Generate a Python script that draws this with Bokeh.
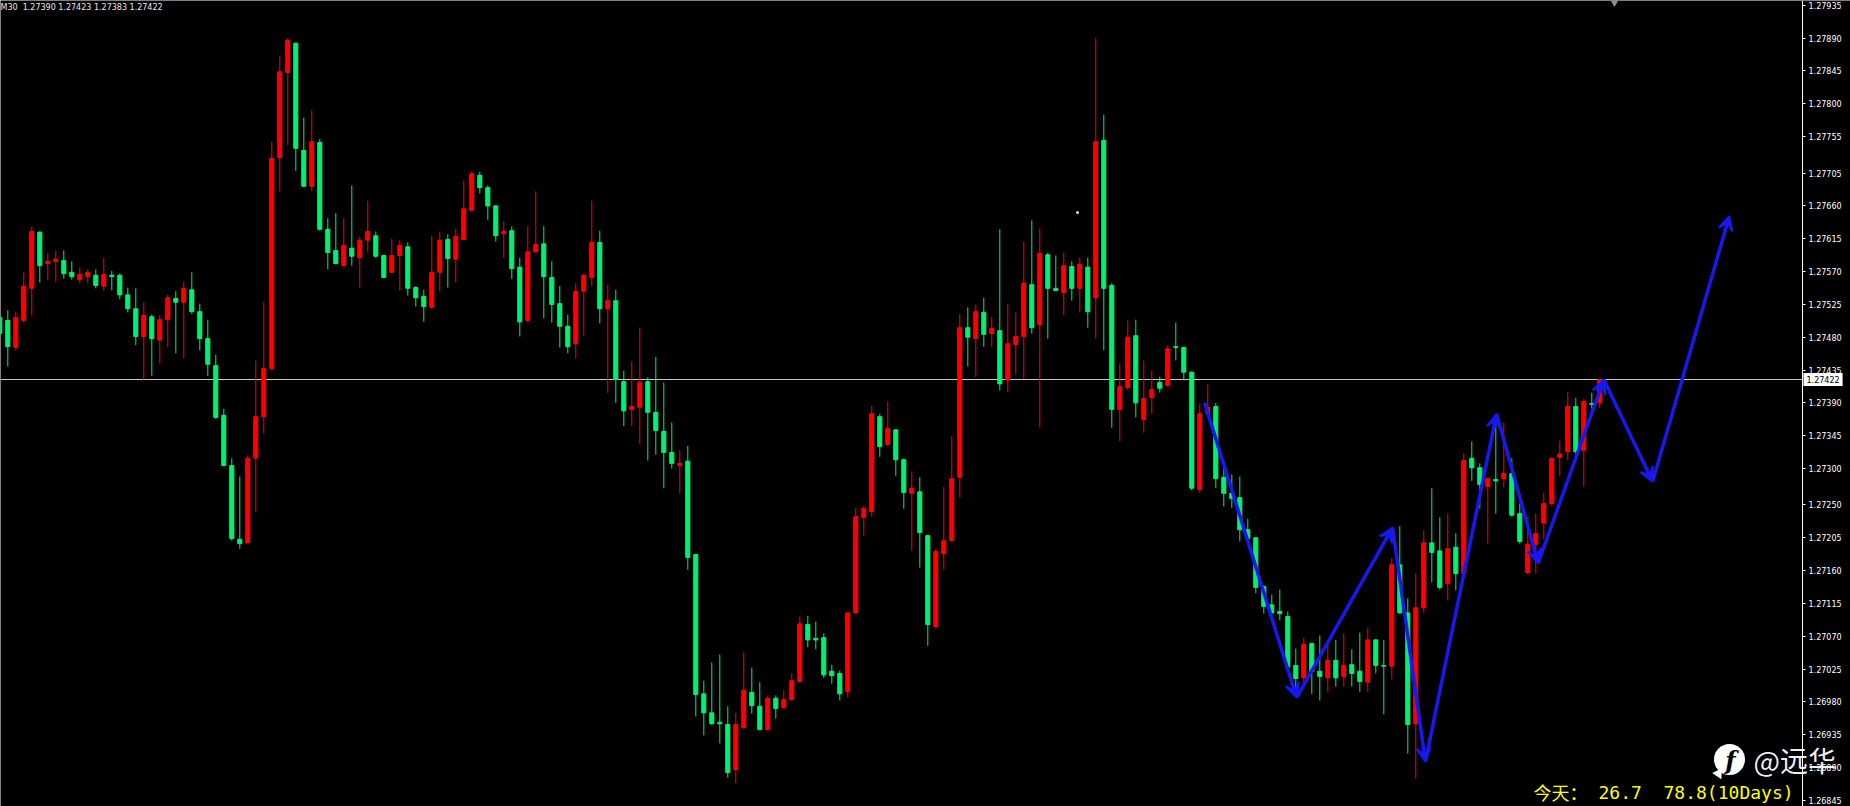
from bokeh.plotting import figure
from bokeh.models import (ColumnDataSource, Range1d, FixedTicker, PrintfTickFormatter,
                          Label, Arrow, VeeHead)
from bokeh.embed import file_html
from bokeh.resources import INLINE

# ---------------- data (M30 candles) ----------------
opens = [1.27507, 1.27503, 1.27466, 1.27503, 1.27547, 1.27624, 1.27581, 1.27584, 1.27585, 1.27569,
         1.27559, 1.27563, 1.27565, 1.27550, 1.27565, 1.27565, 1.27538, 1.27519, 1.27481, 1.27508,
         1.27476, 1.27504, 1.27533, 1.27528, 1.27545, 1.27515, 1.27478, 1.27441, 1.27373, 1.27304,
         1.27203, 1.27198, 1.27314, 1.27371, 1.27437, 1.27726, 1.27843, 1.27883, 1.27736, 1.27687,
         1.27747, 1.27628, 1.27599, 1.27578, 1.27602, 1.27589, 1.27613, 1.27619, 1.27592, 1.27569,
         1.27592, 1.27604, 1.27548, 1.27536, 1.27521, 1.27569, 1.27614, 1.27587, 1.27614, 1.27654,
         1.27702, 1.27685, 1.27660, 1.27622, 1.27626, 1.27576, 1.27503, 1.27597, 1.27608, 1.27562,
         1.27526, 1.27495, 1.27471, 1.27543, 1.27562, 1.27610, 1.27519, 1.27530, 1.27419, 1.27381,
         1.27384, 1.27419, 1.27377, 1.27351, 1.27322, 1.27304, 1.27310, 1.27182, 1.26991, 1.26965,
         1.26952, 1.26949, 1.26887, 1.26945, 1.26993, 1.26974, 1.26942, 1.26985, 1.26972, 1.26983,
         1.27008, 1.27086, 1.27067, 1.27068, 1.27022, 1.27019, 1.26994, 1.27102, 1.27233, 1.27241,
         1.27371, 1.27333, 1.27353, 1.27312, 1.27266, 1.27268, 1.27208, 1.27083, 1.27183, 1.27201,
         1.27288, 1.27493, 1.27478, 1.27514, 1.27485, 1.27489, 1.27421, 1.27470, 1.27481, 1.27552,
         1.27497, 1.27593, 1.27547, 1.27541, 1.27577, 1.27547, 1.27576, 1.27534, 1.27750, 1.27551,
         1.27381, 1.27411, 1.27482, 1.27367, 1.27397, 1.27418, 1.27414, 1.27467, 1.27466, 1.27432,
         1.27271, 1.27375, 1.27385, 1.27288, 1.27266, 1.27260, 1.27216, 1.27205, 1.27138, 1.27113,
         1.27104, 1.27097, 1.27030, 1.27013, 1.27060, 1.27022, 1.27013, 1.27037, 1.27015, 1.27031,
         1.27022, 1.27007, 1.27065, 1.27030, 1.27029, 1.27168, 1.27102, 1.26950, 1.27109, 1.27198,
         1.27187, 1.27142, 1.27192, 1.27156, 1.27314, 1.27301, 1.27275, 1.27285, 1.27286, 1.27293,
         1.27238, 1.27157, 1.27196, 1.27225, 1.27252, 1.27315, 1.27323, 1.27385, 1.27325, 1.27389,
         1.27390]
highs = [1.27514, 1.27517, 1.27515, 1.27569, 1.27632, 1.27625, 1.27595, 1.27599, 1.27599, 1.27584,
         1.27576, 1.27573, 1.27573, 1.27589, 1.27571, 1.27567, 1.27548, 1.27547, 1.27528, 1.27511,
         1.27510, 1.27538, 1.27543, 1.27556, 1.27569, 1.27526, 1.27504, 1.27456, 1.27382, 1.27314,
         1.27289, 1.27318, 1.27448, 1.27528, 1.27748, 1.27866, 1.27890, 1.27884, 1.27781, 1.27791,
         1.27752, 1.27643, 1.27650, 1.27643, 1.27688, 1.27618, 1.27667, 1.27625, 1.27593, 1.27615,
         1.27613, 1.27610, 1.27550, 1.27545, 1.27619, 1.27625, 1.27621, 1.27629, 1.27695, 1.27707,
         1.27707, 1.27688, 1.27661, 1.27639, 1.27632, 1.27589, 1.27632, 1.27680, 1.27632, 1.27584,
         1.27550, 1.27511, 1.27554, 1.27567, 1.27667, 1.27626, 1.27552, 1.27545, 1.27434, 1.27447,
         1.27493, 1.27425, 1.27453, 1.27418, 1.27363, 1.27325, 1.27331, 1.27183, 1.27009, 1.27034,
         1.27045, 1.26974, 1.26965, 1.27048, 1.27027, 1.27007, 1.26989, 1.26989, 1.26996, 1.27019,
         1.27097, 1.27098, 1.27090, 1.27074, 1.27031, 1.27023, 1.27103, 1.27246, 1.27249, 1.27386,
         1.27375, 1.27392, 1.27354, 1.27314, 1.27296, 1.27288, 1.27209, 1.27190, 1.27275, 1.27344,
         1.27512, 1.27521, 1.27525, 1.27534, 1.27508, 1.27628, 1.27526, 1.27514, 1.27611, 1.27640,
         1.27629, 1.27596, 1.27592, 1.27596, 1.27584, 1.27589, 1.27589, 1.27890, 1.27785, 1.27554,
         1.27444, 1.27503, 1.27504, 1.27448, 1.27434, 1.27426, 1.27469, 1.27500, 1.27467, 1.27433,
         1.27389, 1.27415, 1.27390, 1.27300, 1.27292, 1.27289, 1.27231, 1.27206, 1.27140, 1.27127,
         1.27134, 1.27104, 1.27053, 1.27068, 1.27061, 1.27071, 1.27064, 1.27065, 1.27074, 1.27052,
         1.27075, 1.27082, 1.27066, 1.27065, 1.27177, 1.27221, 1.27122, 1.27156, 1.27215, 1.27273,
         1.27233, 1.27238, 1.27211, 1.27321, 1.27337, 1.27307, 1.27288, 1.27363, 1.27363, 1.27314,
         1.27252, 1.27234, 1.27238, 1.27267, 1.27315, 1.27338, 1.27405, 1.27397, 1.27395, 1.27404,
         1.27423]
lows = [1.27476, 1.27440, 1.27462, 1.27500, 1.27510, 1.27555, 1.27558, 1.27556, 1.27560, 1.27559,
        1.27554, 1.27554, 1.27547, 1.27544, 1.27544, 1.27532, 1.27514, 1.27469, 1.27421, 1.27427,
        1.27444, 1.27466, 1.27458, 1.27451, 1.27512, 1.27462, 1.27427, 1.27368, 1.27303, 1.27201,
        1.27190, 1.27197, 1.27240, 1.27348, 1.27434, 1.27680, 1.27743, 1.27708, 1.27686, 1.27680,
        1.27626, 1.27573, 1.27580, 1.27577, 1.27578, 1.27548, 1.27596, 1.27589, 1.27561, 1.27568,
        1.27544, 1.27537, 1.27522, 1.27501, 1.27519, 1.27543, 1.27548, 1.27555, 1.27613, 1.27652,
        1.27677, 1.27641, 1.27611, 1.27589, 1.27560, 1.27481, 1.27500, 1.27596, 1.27506, 1.27500,
        1.27466, 1.27458, 1.27451, 1.27482, 1.27550, 1.27499, 1.27403, 1.27390, 1.27358, 1.27358,
        1.27334, 1.27311, 1.27319, 1.27273, 1.27300, 1.27266, 1.27161, 1.26960, 1.26934, 1.26949,
        1.26923, 1.26876, 1.26868, 1.26943, 1.26964, 1.26941, 1.26941, 1.26957, 1.26970, 1.26982,
        1.27006, 1.27055, 1.27052, 1.27013, 1.27005, 1.26982, 1.26986, 1.27101, 1.27208, 1.27234,
        1.27316, 1.27331, 1.27290, 1.27245, 1.27187, 1.27164, 1.27057, 1.27081, 1.27161, 1.27200,
        1.27260, 1.27440, 1.27425, 1.27467, 1.27466, 1.27407, 1.27405, 1.27429, 1.27423, 1.27485,
        1.27356, 1.27478, 1.27543, 1.27510, 1.27530, 1.27514, 1.27493, 1.27478, 1.27462, 1.27356,
        1.27337, 1.27407, 1.27370, 1.27349, 1.27375, 1.27404, 1.27412, 1.27448, 1.27421, 1.27270,
        1.27267, 1.27373, 1.27273, 1.27248, 1.27246, 1.27200, 1.27198, 1.27129, 1.27101, 1.27101,
        1.27092, 1.27027, 1.27000, 1.27003, 1.26991, 1.26982, 1.26993, 1.27001, 1.27001, 1.27001,
        1.26994, 1.26994, 1.27019, 1.26963, 1.27011, 1.27101, 1.26909, 1.26875, 1.27102, 1.27144,
        1.27134, 1.27119, 1.27133, 1.27153, 1.27283, 1.27245, 1.27197, 1.27238, 1.27274, 1.27234,
        1.27197, 1.27155, 1.27156, 1.27203, 1.27249, 1.27290, 1.27311, 1.27318, 1.27275, 1.27382,
        1.27383]
closes = [1.27485, 1.27467, 1.27507, 1.27550, 1.27625, 1.27578, 1.27584, 1.27587, 1.27567, 1.27563,
          1.27566, 1.27569, 1.27551, 1.27566, 1.27563, 1.27538, 1.27519, 1.27481, 1.27510, 1.27478,
          1.27504, 1.27534, 1.27528, 1.27547, 1.27515, 1.27478, 1.27443, 1.27370, 1.27304, 1.27204,
          1.27197, 1.27314, 1.27371, 1.27437, 1.27725, 1.27844, 1.27887, 1.27739, 1.27687, 1.27748,
          1.27628, 1.27596, 1.27581, 1.27606, 1.27591, 1.27613, 1.27625, 1.27591, 1.27562, 1.27592,
          1.27606, 1.27547, 1.27534, 1.27522, 1.27569, 1.27613, 1.27588, 1.27618, 1.27656, 1.27704,
          1.27685, 1.27660, 1.27619, 1.27625, 1.27574, 1.27501, 1.27597, 1.27607, 1.27563, 1.27525,
          1.27495, 1.27467, 1.27543, 1.27565, 1.27610, 1.27519, 1.27530, 1.27422, 1.27379, 1.27385,
          1.27418, 1.27377, 1.27352, 1.27322, 1.27307, 1.27307, 1.27178, 1.26990, 1.26965, 1.26950,
          1.26950, 1.26883, 1.26949, 1.26996, 1.26975, 1.26942, 1.26985, 1.26971, 1.26983, 1.27009,
          1.27087, 1.27065, 1.27065, 1.27017, 1.27016, 1.26991, 1.27102, 1.27234, 1.27245, 1.27375,
          1.27330, 1.27355, 1.27312, 1.27267, 1.27273, 1.27212, 1.27086, 1.27186, 1.27201, 1.27286,
          1.27493, 1.27480, 1.27515, 1.27484, 1.27492, 1.27416, 1.27471, 1.27481, 1.27554, 1.27493,
          1.27595, 1.27547, 1.27544, 1.27578, 1.27547, 1.27580, 1.27515, 1.27748, 1.27547, 1.27381,
          1.27412, 1.27480, 1.27390, 1.27396, 1.27408, 1.27410, 1.27464, 1.27466, 1.27432, 1.27273,
          1.27375, 1.27384, 1.27286, 1.27266, 1.27259, 1.27216, 1.27204, 1.27137, 1.27111, 1.27102,
          1.27101, 1.27028, 1.27012, 1.27059, 1.27022, 1.27015, 1.27037, 1.27013, 1.27030, 1.27019,
          1.27008, 1.27065, 1.27030, 1.27029, 1.27168, 1.27102, 1.26949, 1.27109, 1.27198, 1.27185,
          1.27137, 1.27190, 1.27156, 1.27311, 1.27301, 1.27278, 1.27286, 1.27283, 1.27293, 1.27236,
          1.27200, 1.27196, 1.27211, 1.27252, 1.27314, 1.27320, 1.27385, 1.27323, 1.27392, 1.27388,
          1.27422]

y_tick_labels = [1.27935, 1.27890, 1.27845, 1.27800, 1.27755, 1.27705, 1.27660, 1.27615, 1.27570,
                 1.27525, 1.27480, 1.27435, 1.27390, 1.27345, 1.27300, 1.27250, 1.27205, 1.27160,
                 1.27115, 1.27070, 1.27025, 1.26980, 1.26935, 1.26890, 1.26845]

# hand-drawn blue zig-zag forecast (bar index, price)
arrow_bars = [150.6, 162.1, 174.1, 178.2, 187.1, 192.3, 200.5, 206.6, 216.2]
arrow_prices = [1.27390, 1.26986, 1.27219, 1.26898, 1.27375, 1.27170, 1.27422, 1.27282, 1.27646]

symbol_period = "M30"
today_label = "今天："
stats_text = "26.7\u00a0\u00a078.8(10Days)"
logo_text = "@远华"

# ---------------- styling ----------------
W, H = 1850, 806
UP = "#ff0000"
DOWN = "#00f070"
BLUE = "#1818f0"


def bx(px):
    """reference-screen x pixel -> bar index (annotation placement only)"""
    return (px + 0.7) / 8.0


def py(yy):
    """reference-screen y pixel -> price (annotation placement only)"""
    return 1.27422 + (379 - yy) * 1.371e-5


AXIS_X = bx(1802)           # where the price scale sits (bar units)

idx = list(range(len(opens)))
colors = [UP if c > o else DOWN for o, c in zip(opens, closes)]
tops = [max(o, c) for o, c in zip(opens, closes)]
bots = [min(o, c) for o, c in zip(opens, closes)]
src = ColumnDataSource(dict(x=idx, o=opens, h=highs, l=lows, c=closes,
                            top=tops, bot=bots, color=colors))

p = figure(width=W, height=H, x_range=Range1d(bx(0), bx(W)),
           y_range=Range1d(py(H), py(0)),
           output_backend="svg", toolbar_location=None,
           x_axis_location=None, y_axis_location="right",
           background_fill_color="black", border_fill_color="black",
           outline_line_color=None, min_border=0)
p.grid.visible = False

ax = p.yaxis[0]
ax.fixed_location = AXIS_X
ax.ticker = FixedTicker(ticks=y_tick_labels, minor_ticks=[])
ax.formatter = PrintfTickFormatter(format="%.5f")
ax.major_label_text_font = "DejaVu Sans"
ax.major_label_text_font_size = "8px"
ax.major_label_text_color = "#ffffff"
ax.axis_line_color = "#ffffff"
ax.axis_line_width = 1
ax.major_tick_line_color = "#ffffff"
ax.major_tick_in = 0
ax.major_tick_out = 3
ax.minor_tick_line_color = None
ax.major_label_standoff = 3

# current price line (up to the price scale)
p.line(x=[bx(0), AXIS_X], y=[closes[-1], closes[-1]], line_color="#c8c8c8", line_width=1)

# candles
p.segment(x0="x", y0="l", x1="x", y1="h", source=src, line_color="color", line_width=1)
p.vbar(x="x", width=0.52, top="top", bottom="bot", source=src,
       fill_color="color", line_color="color", line_width=1)

# blue arrows
asrc = ColumnDataSource(dict(x0=arrow_bars[:-1], y0=arrow_prices[:-1],
                             x1=arrow_bars[1:], y1=arrow_prices[1:]))
p.add_layout(Arrow(x_start="x0", y_start="y0", x_end="x1", y_end="y1", source=asrc,
                   line_color=BLUE, line_width=3.5,
                   end=VeeHead(size=14, fill_color=BLUE, line_color=BLUE, line_width=2)))

# small markers (chart-shift triangle, cursor dot)
p.scatter(x=[bx(1614)], y=[py(2)], marker="inverted_triangle", size=8,
          fill_color="#909090", line_color=None)
p.scatter(x=[bx(1077)], y=[py(212)], marker="circle", size=3,
          fill_color="#d8d8d8", line_color=None)

# header text
p.add_layout(Label(x=bx(0), y=py(7),
                   text=f"{symbol_period}\u00a0 {opens[-1]:.5f} {highs[-1]:.5f} {lows[-1]:.5f} {closes[-1]:.5f}",
                   text_font="DejaVu Sans", text_font_size="8px", text_color="#e8e8e8",
                   text_baseline="middle", text_align="left"))

# price box on the scale
p.add_layout(Label(x=AXIS_X, y=closes[-1], x_offset=1, text=f"{closes[-1]:.5f}",
                   text_font="DejaVu Sans", text_font_size="8px", text_color="#000000",
                   text_baseline="middle", text_align="left",
                   background_fill_color="#ffffff", padding=3))

# yellow statistics text
p.add_layout(Label(x=bx(1533), y=py(791), text=today_label,
                   text_font="Noto Sans CJK SC", text_font_size="18px", text_color="#ffff00",
                   text_baseline="alphabetic", text_align="left"))
p.add_layout(Label(x=bx(1598), y=py(792), text=stats_text,
                   text_font="DejaVu Sans Mono", text_font_size="18px", text_color="#ffff00",
                   text_baseline="alphabetic", text_align="left"))

# watermark logo
p.scatter(x=[bx(1729)], y=[py(759)], marker="circle", size=31, fill_color="white", line_color=None)
p.scatter(x=[bx(1718)], y=[py(773)], marker="triangle", size=11, angle=3.6,
          fill_color="white", line_color=None)
p.add_layout(Label(x=bx(1730), y=py(760), text="f", text_font="DejaVu Serif",
                   text_font_style="bold italic", text_font_size="24px", text_color="#000000",
                   text_baseline="middle", text_align="center"))
p.add_layout(Label(x=bx(1753), y=py(759), text=logo_text,
                   text_font="Noto Sans CJK SC", text_font_size="28px", text_color="#ffffff",
                   text_alpha=0.95, text_baseline="middle", text_align="left"))

open("out.html", "w").write(file_html(p, INLINE))
